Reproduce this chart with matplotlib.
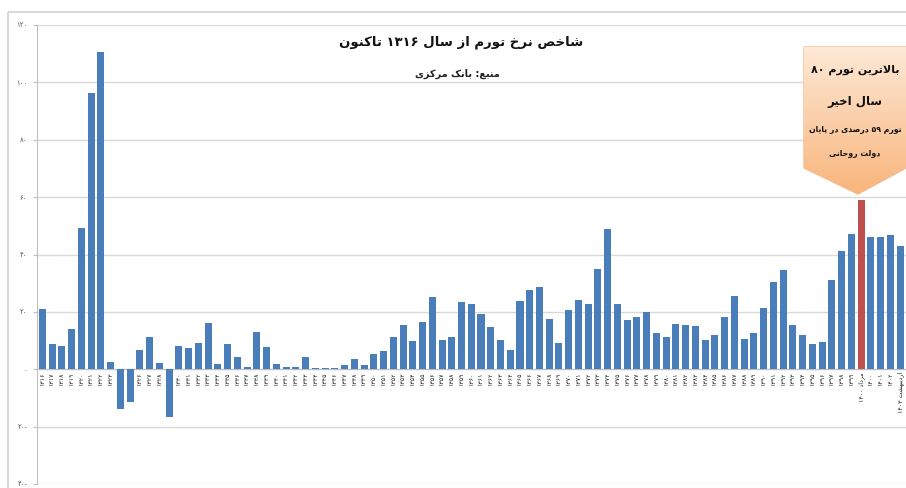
import numpy as np
import matplotlib
matplotlib.use("Agg")
from matplotlib import pyplot as plt
from matplotlib.patches import Polygon, Rectangle

# inflation rate (%), 1316..1399 then recent points
values = [21.1, 8.7, 8.1, 13.9, 49.4, 96.3, 110.6, 2.7, -13.9, -11.4,
          6.7, 11.2, 2.1, -16.8, 8.1, 7.3, 9.3, 16.0, 1.9, 8.7,
          4.3, 0.9, 13.0, 7.9, 1.7, 0.8, 0.9, 4.4, 0.3, 0.5,
          0.6, 1.4, 3.7, 1.5, 5.3, 6.4, 11.2, 15.4, 10.0, 16.5,
          25.2, 10.1, 11.2, 23.4, 22.6, 19.1, 14.7, 10.2, 6.7, 23.8,
          27.5, 28.8, 17.4, 9.0, 20.6, 24.3, 22.7, 35.1, 49.0, 22.8,
          17.2, 18.1, 19.9, 12.6, 11.4, 15.9, 15.5, 15.1, 10.2, 11.8,
          18.3, 25.5, 10.7, 12.5, 21.3, 30.4, 34.6, 15.5, 11.8, 8.8,
          9.5, 31.0, 41.2, 47.0, 58.9, 46.1, 46.1, 46.7, 43.1]
years = [str(y) for y in range(1316, 1400)]
extra_labels = ["مرداد 1400", "1400", "1401", "1402", "اردیبهشت 1403"]
highlight = 84
yticks = [-40, -20, 0, 20, 40, 60, 80, 100, 120]

title = "شاخص نرخ تورم از سال 1316 تاکنون"
subtitle = "منبع: بانک مرکزی"
note_lines = ["بالاترین تورم 80", "سال اخیر", "تورم 59 درصدی در پایان", "دولت روحانی"]

FA_DIGITS = str.maketrans("0123456789", "۰۱۲۳۴۵۶۷۸۹")
DUAL = {'ب': 0xFE8F, 'ت': 0xFE95, 'ث': 0xFE99, 'ج': 0xFE9D, 'ح': 0xFEA1, 'خ': 0xFEA5,
        'س': 0xFEB1, 'ش': 0xFEB5, 'ص': 0xFEB9, 'ض': 0xFEBD, 'ط': 0xFEC1, 'ظ': 0xFEC5,
        'ع': 0xFEC9, 'غ': 0xFECD, 'ف': 0xFED1, 'ق': 0xFED5, 'ل': 0xFEDD, 'م': 0xFEE1,
        'ن': 0xFEE5, 'ه': 0xFEE9, 'ی': 0xFBFC, 'ک': 0xFB8E, 'گ': 0xFB92, 'پ': 0xFB56,
        'چ': 0xFB7A}
RIGHT = {'ا': 0xFE8D, 'آ': 0xFE81, 'د': 0xFEA9, 'ذ': 0xFEAB, 'ر': 0xFEAD, 'ز': 0xFEAF,
         'و': 0xFEED, 'ژ': 0xFB8A}


def fa(text):
    # crude persian shaping + visual reordering (matplotlib has no bidi)
    text = text.translate(FA_DIGITS)
    out = []
    i = 0
    n = len(text)
    while i < n:
        c = text[i]
        prev = text[i - 1] if i > 0 else ''
        nxt = text[i + 1] if i + 1 < n else ''
        pj = prev in DUAL
        if c == 'ل' and nxt == 'ا':
            out.append(chr(0xFEFC) if pj else chr(0xFEFB))
            i += 2
            continue
        if c in DUAL:
            nj = nxt in DUAL or nxt in RIGHT
            base = DUAL[c]
            if pj and nj:
                out.append(chr(base + 3))
            elif pj:
                out.append(chr(base + 1))
            elif nj:
                out.append(chr(base + 2))
            else:
                out.append(chr(base))
        elif c in RIGHT:
            out.append(chr(RIGHT[c] + 1) if pj else chr(RIGHT[c]))
        else:
            out.append(c)
        i += 1
    s = ''.join(out)[::-1]
    # keep digit runs left to right
    res, run = [], []
    for ch in s:
        if '۰' <= ch <= '۹':
            run.append(ch)
        else:
            res.extend(run[::-1]); run = []
            res.append(ch)
    res.extend(run[::-1])
    return ''.join(res)


plt.rcParams['font.family'] = ['DejaVu Sans']

labels = years + extra_labels
x = np.arange(len(values))
colors = ['#4a7ebb'] * len(values)
colors[highlight] = '#c0504d'

fig = plt.figure(figsize=(9.06, 4.88), dpi=100)
ax = fig.add_axes([37 / 906, 1 - 484 / 488, 1 - 37 / 906, (484 - 25) / 488])
ax.bar(x, values, width=0.72, color=colors, zorder=3)
ax.set_xlim(-0.55, 88.6)
ax.set_ylim(-40, 120)
ax.tick_params(axis='y', length=3, color='#bfbfbf', pad=4, labelsize=5, labelcolor='#555555')
ax.tick_params(axis='x', length=0, pad=2, labelsize=4.5, labelcolor='#222222', labelrotation=90)
ax.set_yticks(yticks)
ax.set_yticklabels([fa(str(v)) for v in yticks])
ax.yaxis.grid(True, color='#d9d9d9', linewidth=1, zorder=0)
ax.set_xticks(x)
ax.set_xticklabels([fa(l) for l in labels])
for t in ax.get_xticklabels():
    t.set_rotation(90)
    t.set_va('top')
    t.set_ha('center')
for s in ['top', 'right']:
    ax.spines[s].set_visible(False)
ax.spines['bottom'].set_position(('data', 0))
ax.spines['bottom'].set_color('#bfbfbf')
ax.spines['left'].set_color('#bfbfbf')

# overlay in pixel coordinates for frame, title and callout
ov = fig.add_axes([0, 0, 1, 1], zorder=5)
ov.set_xlim(0, 906)
ov.set_ylim(488, 0)
ov.axis('off')
ov.patch.set_alpha(0)
ov.add_patch(Rectangle((8, 12), 910, 490, fill=False, edgecolor='#d9d9d9', linewidth=1.5))

ov.text(461, 42, fa(title), ha='center', va='center', fontsize=9.5, fontweight='heavy', color='#111111')
ov.text(457, 74, fa(subtitle), ha='center', va='center', fontsize=7, fontweight='bold', color='#222222')

pts = [(804, 47), (906, 47), (906, 168), (858, 194), (804, 168)]
poly = Polygon(pts, closed=True, facecolor='none', edgecolor='#f2b98c', linewidth=1)
ov.add_patch(poly)
grad = np.linspace(0, 1, 256).reshape(-1, 1)
cmap = matplotlib.colors.LinearSegmentedColormap.from_list('g', ['#fde9d6', '#f9b57c'])
im = ov.imshow(grad, extent=(804, 906, 194, 47), cmap=cmap, aspect='auto', zorder=1)
im.set_clip_path(poly)

ov.text(855, 70, fa(note_lines[0]), ha='center', va='center', fontsize=8, fontweight='bold', color='#111111', zorder=3)
ov.text(855, 101, fa(note_lines[1]), ha='center', va='center', fontsize=8.5, fontweight='bold', color='#111111', zorder=3)
ov.text(855, 130, fa(note_lines[2]), ha='center', va='center', fontsize=5.6, fontweight='bold', color='#111111', zorder=3)
ov.text(855, 154, fa(note_lines[3]), ha='center', va='center', fontsize=5.6, fontweight='bold', color='#111111', zorder=3)

fig.savefig('out.png', dpi=100)
